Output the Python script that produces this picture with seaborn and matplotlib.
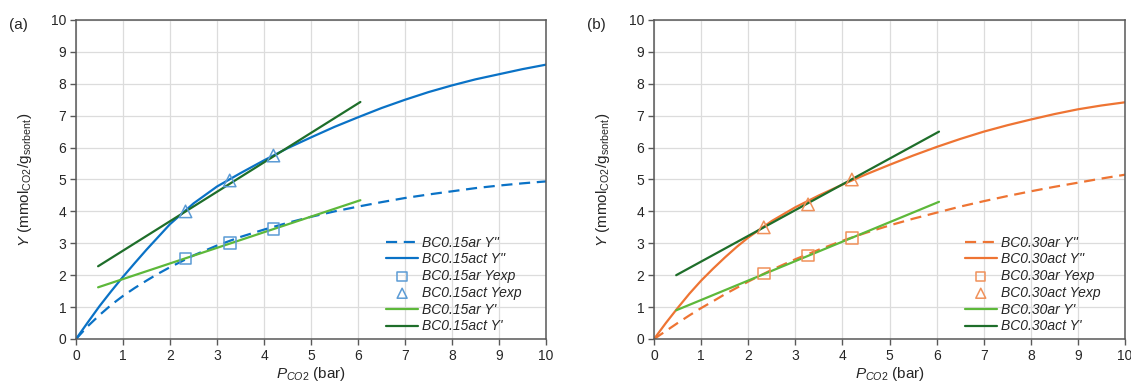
import numpy as np
import pandas as pd
import matplotlib
matplotlib.use('Agg')
import matplotlib.pyplot as plt
import seaborn as sns

# pressure grid for the model curves (bar)
p_curve = [0, 0.25, 0.5, 0.75, 1, 1.25, 1.5, 1.75, 2, 2.5, 3, 3.5, 4, 4.5, 5,
           5.5, 6, 6.5, 7, 7.5, 8, 8.5, 9, 9.5, 10]

# panel (a) BC0.15
a_ar_model = [0, 0.4, 0.75, 1.07, 1.35, 1.6, 1.83, 2.05, 2.25, 2.62, 2.93, 3.2, 3.43,
              3.64, 3.83, 4.0, 4.15, 4.29, 4.42, 4.53, 4.63, 4.73, 4.81, 4.88, 4.94]
a_act_model = [0, 0.52, 1.03, 1.5, 1.95, 2.38, 2.8, 3.2, 3.6, 4.25, 4.78, 5.2, 5.6,
               5.98, 6.32, 6.65, 6.95, 7.24, 7.5, 7.74, 7.95, 8.14, 8.3, 8.46, 8.6]
# panel (b) BC0.30
b_ar_model = [0, 0.25, 0.5, 0.74, 0.97, 1.18, 1.4, 1.6, 1.8, 2.17, 2.5, 2.8, 3.08,
              3.33, 3.56, 3.77, 3.96, 4.15, 4.32, 4.48, 4.63, 4.77, 4.9, 5.03, 5.15]
b_act_model = [0, 0.5, 0.97, 1.42, 1.83, 2.2, 2.55, 2.88, 3.18, 3.7, 4.13, 4.5, 4.84,
               5.16, 5.46, 5.75, 6.02, 6.27, 6.5, 6.7, 6.88, 7.05, 7.2, 7.32, 7.42]

# experimental points
p_exp = [2.33, 3.27, 4.2]
a_ar_exp = [2.52, 3.0, 3.45]
a_act_exp = [4.0, 4.97, 5.75]
b_ar_exp = [2.05, 2.62, 3.17]
b_act_exp = [3.5, 4.22, 5.0]

# linear Y' segments (endpoints)
p_lin = [0.47, 6.05]
a_ar_lin = [1.62, 4.35]
a_act_lin = [2.28, 7.43]
b_ar_lin = [0.9, 4.3]
b_act_lin = [2.0, 6.5]

sns.set_theme(style='white')
plt.rcParams['font.family'] = ['Liberation Sans', 'DejaVu Sans']
plt.rcParams['mathtext.fontset'] = 'custom'
plt.rcParams['mathtext.rm'] = 'Liberation Sans'
plt.rcParams['mathtext.it'] = 'Liberation Sans:italic'

LGREEN = '#5DB83A'
DGREEN = '#1E6E2A'
TXT = '#262626'


def draw_panel(ax, tag, name, line_c, mark_c, ar_m, act_m, ar_e, act_e, ar_l, act_l):
    sns.lineplot(x=p_curve, y=ar_m, ax=ax, color=line_c, lw=1.6, linestyle=(0, (5, 3)),
                 label=f"{name}ar Y''")
    sns.lineplot(x=p_curve, y=act_m, ax=ax, color=line_c, lw=1.6, label=f"{name}act Y''")
    sns.scatterplot(x=p_exp, y=ar_e, ax=ax, marker='s', s=70, facecolor='none',
                    edgecolor=mark_c, linewidth=1.1, label=f"{name}ar Yexp", zorder=5)
    sns.scatterplot(x=p_exp, y=act_e, ax=ax, marker='^', s=80, facecolor='none',
                    edgecolor=mark_c, linewidth=1.1, label=f"{name}act Yexp", zorder=5)
    sns.lineplot(x=p_lin, y=ar_l, ax=ax, color=LGREEN, lw=1.6, label=f"{name}ar Y'")
    sns.lineplot(x=p_lin, y=act_l, ax=ax, color=DGREEN, lw=1.6, label=f"{name}act Y'")

    ax.set_xlim(0, 10)
    ax.set_ylim(0, 10)
    ax.set_xticks(range(0, 11))
    ax.set_yticks(range(0, 11))
    ax.grid(True, color='#DCDCDC', lw=0.9)
    for s in ax.spines.values():
        s.set_color('#595959')
        s.set_linewidth(1.1)
    ax.tick_params(axis='both', which='both', length=4, width=1, color='#595959',
                   labelsize=10, labelcolor=TXT, direction='out',
                   bottom=True, left=True, pad=3)
    ax.set_xlabel(r'$\mathit{P_{CO2}}$ (bar)', fontsize=11, labelpad=2, color=TXT)
    ax.set_ylabel(r'$\mathit{Y}$ (mmol$_{\mathrm{CO2}}$/g$_{\mathrm{sorbent}}$)',
                  fontsize=11, labelpad=12, color=TXT)
    leg = ax.legend(loc='lower left', bbox_to_anchor=(0.648, 0.0), frameon=False,
                    fontsize=10, handlelength=2.3, labelspacing=0.2, handletextpad=0.3,
                    borderaxespad=0.0, markerscale=0.8)
    for t in leg.get_texts():
        t.set_fontstyle('italic')
        t.set_color(TXT)
    ax.figure.text(ax.get_position().x0 - 0.059, 0.935, tag, fontsize=11, color=TXT,
                   va='center')


fig = plt.figure(figsize=(11.31, 3.83), dpi=100)
ax1 = fig.add_axes([0.0672, 0.1149, 0.4156, 0.8329])
ax2 = fig.add_axes([0.5783, 0.1149, 0.4164, 0.8329])

draw_panel(ax1, '(a)', 'BC0.15', '#0A72C6', '#5B9BD5',
           a_ar_model, a_act_model, a_ar_exp, a_act_exp, a_ar_lin, a_act_lin)
draw_panel(ax2, '(b)', 'BC0.30', '#EE7433', '#F0915A',
           b_ar_model, b_act_model, b_ar_exp, b_act_exp, b_ar_lin, b_act_lin)

fig.savefig('out.png', dpi=100)
